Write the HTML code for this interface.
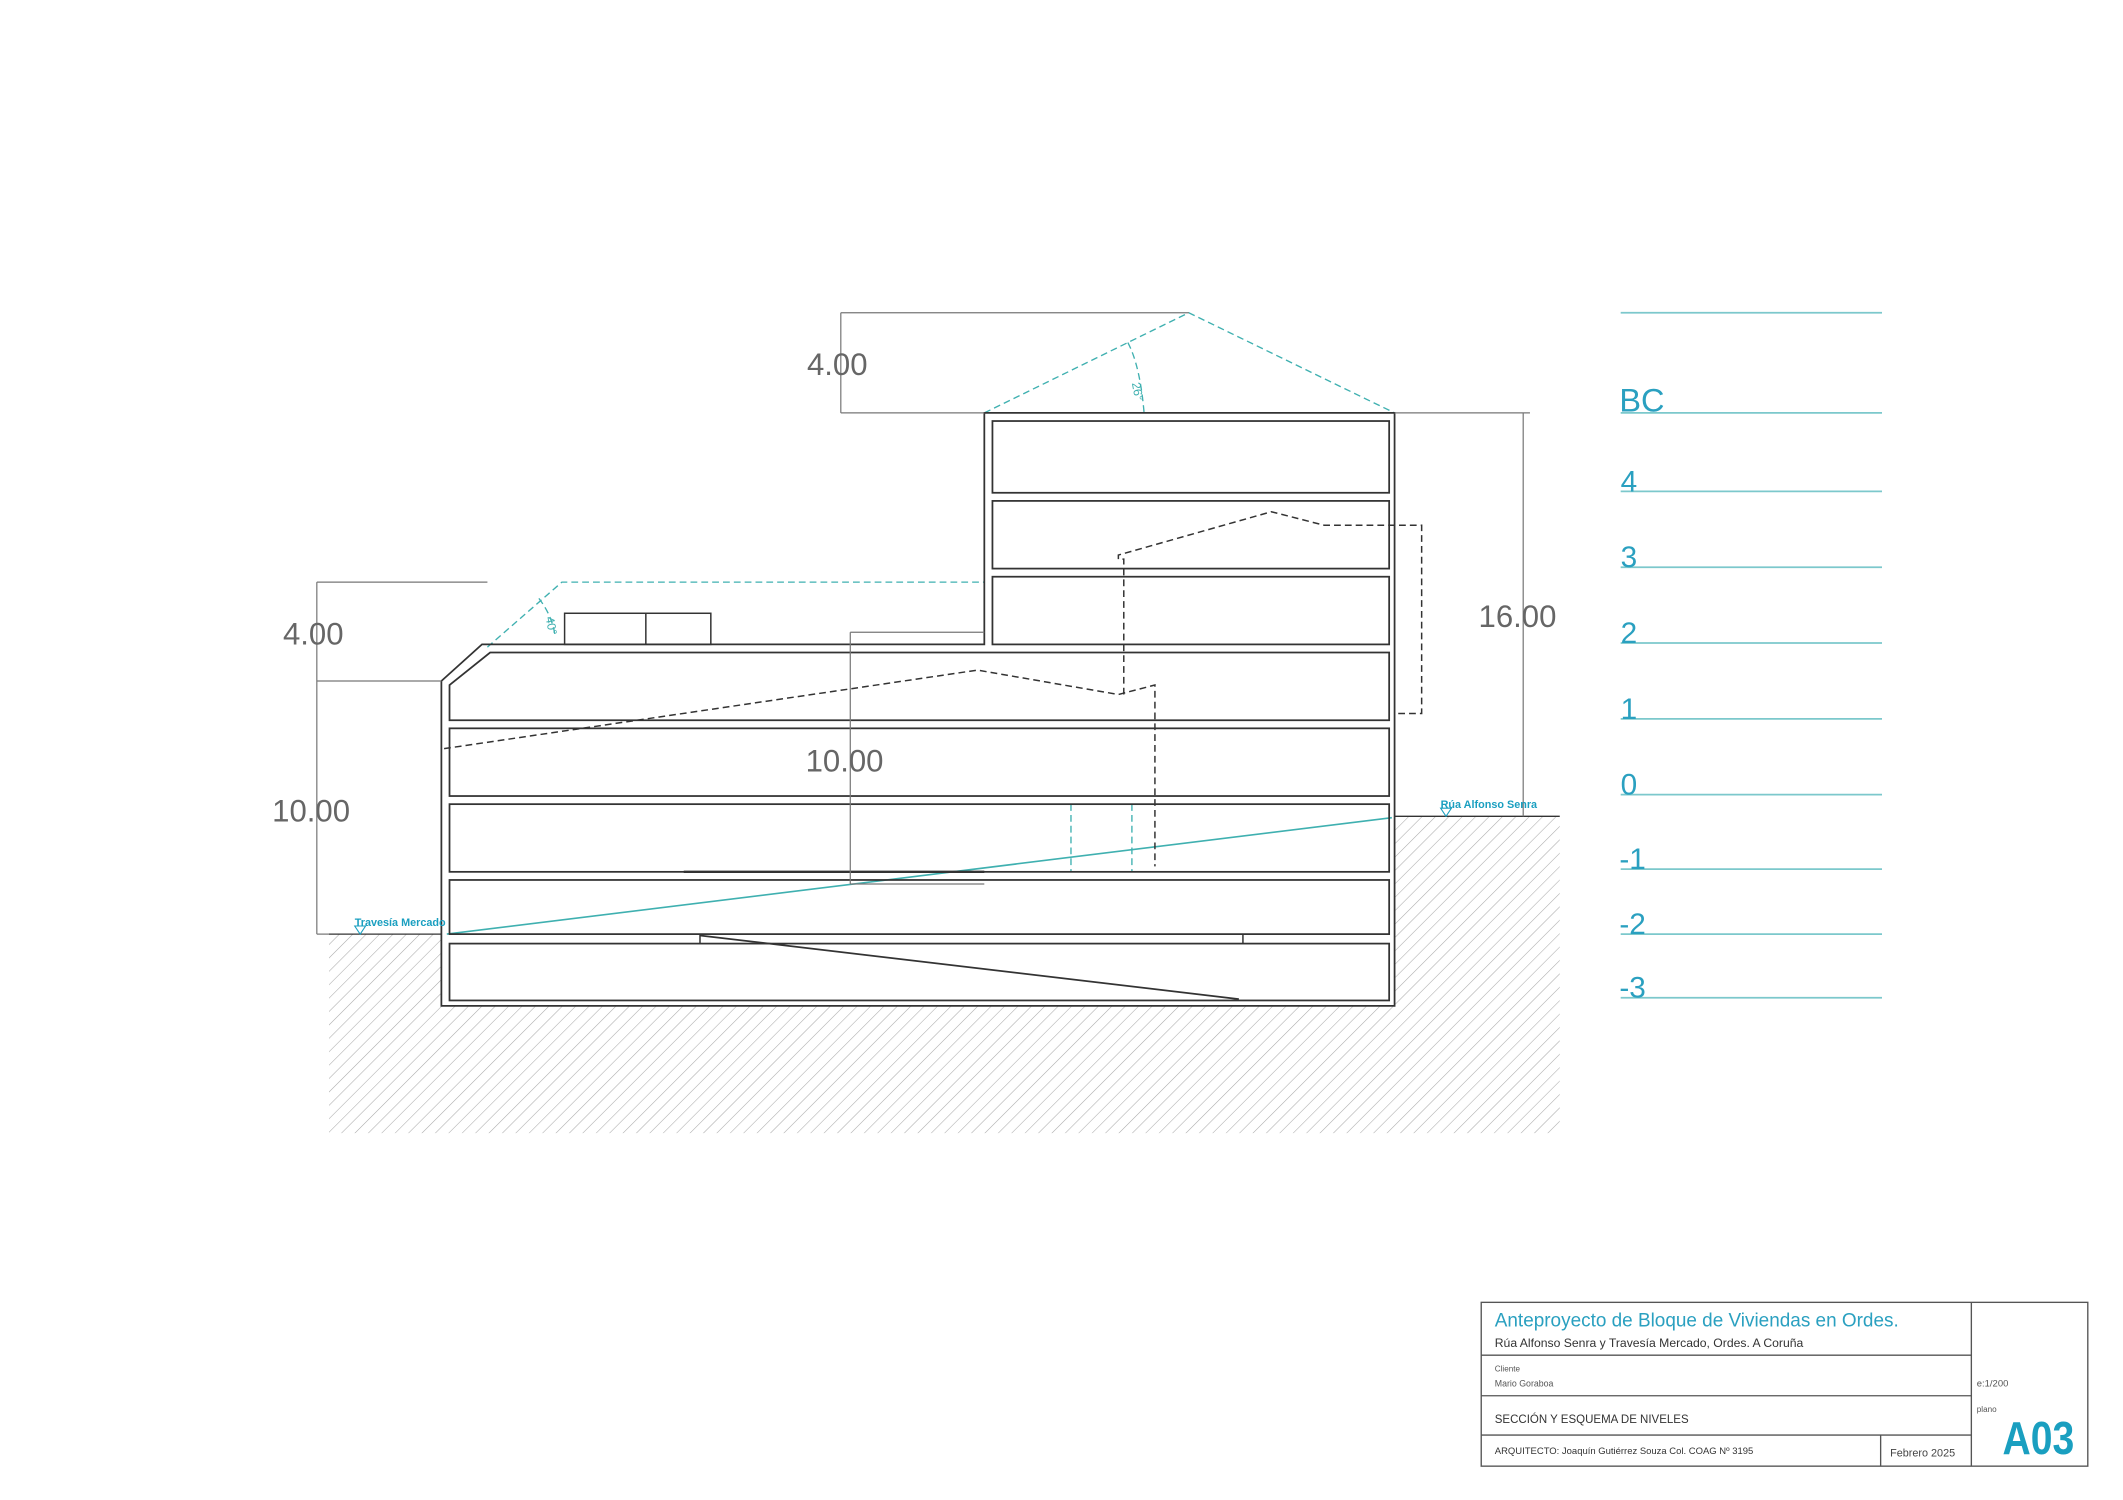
<!DOCTYPE html>
<html><head><meta charset="utf-8"><style>
html,body{margin:0;padding:0;background:#fff;}
svg{display:block;}
text{font-family:"Liberation Sans","DejaVu Sans",sans-serif;}
</style></head><body>
<svg width="2123" height="1500" viewBox="0 0 1568 1108" preserveAspectRatio="none" xmlns="http://www.w3.org/2000/svg">
<defs>
<pattern id="h" patternUnits="userSpaceOnUse" width="7" height="7" patternTransform="rotate(45)">
<line x1="0" y1="0" x2="0" y2="7" stroke="#aaa" stroke-width="0.8"/>
</pattern>
</defs>
<rect width="1568" height="1108" fill="#fff"/>
<polygon points="243,690 326,690 326,743 1030,743 1030,603 1152,603 1152,837 243,837" fill="url(#h)"/>
<line x1="243" y1="690" x2="326" y2="690" stroke="#333" stroke-width="1"/>
<line x1="1030" y1="603" x2="1152" y2="603" stroke="#333" stroke-width="1"/>

<g stroke="#3fb0b0" stroke-width="1" fill="none" stroke-dasharray="5,3">
<polyline points="727,305 878,231 1030,305"/>
<polyline points="360,478 415,430 727,430"/>
<path d="M833,253 Q842,270 845,305"/>
<path d="M398,442 Q408,455 410,470"/>
<line x1="791" y1="594" x2="791" y2="644"/>
<line x1="836" y1="594" x2="836" y2="644"/>
</g>
<text x="836" y="283" font-size="9" fill="#3fb0b0" transform="rotate(80 836 283)">26°</text>
<text x="403" y="456" font-size="9" fill="#3fb0b0" transform="rotate(80 403 456)">40°</text>
<line x1="330" y1="690" x2="1028" y2="604" stroke="#3fb0b0" stroke-width="1.2"/>

<g stroke="#333" stroke-width="1.3" fill="none">
<path d="M326,743 L326,503 L356,476 L727,476 L727,305 L1030,305 L1030,743 Z"/>
<rect x="733" y="311" width="293" height="53"/>
<rect x="733" y="370" width="293" height="50"/>
<rect x="733" y="426" width="293" height="50"/>
<path d="M332,532 L332,506 L362,482 L1026,482 L1026,532 Z"/>
<rect x="332" y="538" width="694" height="50"/>
<rect x="332" y="594" width="694" height="50"/>
<rect x="332" y="650" width="694" height="40"/>
<rect x="332" y="697" width="694" height="42"/>
<rect x="417" y="453" width="108" height="23" stroke-width="1.1"/>
<line x1="477" y1="453" x2="477" y2="476" stroke-width="1.1"/>
<line x1="517" y1="691" x2="915" y2="738" stroke-width="1.3"/>
<line x1="505" y1="644" x2="727" y2="644" stroke-width="1.8"/>
<line x1="517" y1="690" x2="517" y2="697" stroke-width="1.1"/>
<line x1="918" y1="690" x2="918" y2="697" stroke-width="1.1"/>
</g>

<g stroke="#333" stroke-width="1.1" fill="none" stroke-dasharray="5,3">
<polyline points="328,553 722,495 826,513 853,506 853,640"/>
<polyline points="830,513 830,413 826,413 826,410 939,378 978,388 1050,388 1050,527 1030,527"/>
</g>

<g stroke="#777" stroke-width="0.9" fill="none">
<line x1="621" y1="231" x2="621" y2="305"/>
<line x1="621" y1="231" x2="878" y2="231"/>
<line x1="621" y1="305" x2="727" y2="305"/>
<line x1="1125" y1="305" x2="1125" y2="603"/>
<line x1="1030" y1="305" x2="1130" y2="305"/>
<line x1="234" y1="430" x2="234" y2="690"/>
<line x1="234" y1="430" x2="360" y2="430"/>
<line x1="234" y1="503" x2="326" y2="503"/>
<line x1="234" y1="690" x2="243" y2="690"/>
<line x1="628" y1="467" x2="628" y2="653"/>
<line x1="628" y1="467" x2="727" y2="467"/>
<line x1="628" y1="653" x2="727" y2="653"/>
</g>
<g fill="#666" font-size="23">
<text x="596" y="277">4.00</text>
<text x="1092" y="463">16.00</text>
<text x="209" y="476">4.00</text>
<text x="201" y="607">10.00</text>
<text x="595" y="570">10.00</text>
</g>
<g fill="#1a9fc0" font-size="8" font-weight="bold">
<text x="262" y="684">Travesía Mercado</text>
<text x="1064" y="597">Rúa Alfonso Senra</text>
</g>
<g stroke="#1a9fc0" stroke-width="0.8" fill="none">
<path d="M262,684 L270,684 L266,690 Z"/>
<path d="M1064,597 L1072,597 L1068,603 Z"/>
</g>

<g stroke="#7cc8cc" stroke-width="1.3">
<line x1="1197" y1="231" x2="1390" y2="231"/>
<line x1="1197" y1="305" x2="1390" y2="305"/>
<line x1="1197" y1="363" x2="1390" y2="363"/>
<line x1="1197" y1="419" x2="1390" y2="419"/>
<line x1="1197" y1="475" x2="1390" y2="475"/>
<line x1="1197" y1="531" x2="1390" y2="531"/>
<line x1="1197" y1="587" x2="1390" y2="587"/>
<line x1="1197" y1="642" x2="1390" y2="642"/>
<line x1="1197" y1="690" x2="1390" y2="690"/>
<line x1="1197" y1="737" x2="1390" y2="737"/>
</g>
<g fill="#2aa0c0" font-size="22">
<text x="1196" y="304" font-size="24">BC</text>
<text x="1197" y="363">4</text>
<text x="1197" y="419">3</text>
<text x="1197" y="475">2</text>
<text x="1197" y="531">1</text>
<text x="1197" y="587">0</text>
<text x="1196" y="642">-1</text>
<text x="1196" y="690">-2</text>
<text x="1196" y="737">-3</text>
</g>

<g stroke="#555" stroke-width="1" fill="none">
<rect x="1094" y="962" width="448" height="121"/>
<line x1="1456" y1="962" x2="1456" y2="1083"/>
<line x1="1094" y1="1001" x2="1456" y2="1001"/>
<line x1="1094" y1="1031" x2="1456" y2="1031"/>
<line x1="1094" y1="1060" x2="1456" y2="1060"/>
<line x1="1389" y1="1060" x2="1389" y2="1083"/>
</g>
<text x="1104" y="980" font-size="14" fill="#2aa0c0">Anteproyecto de Bloque de Viviendas en Ordes.</text>
<text x="1104" y="995" font-size="9" fill="#333">Rúa Alfonso Senra y Travesía Mercado, Ordes. A Coruña</text>
<text x="1104" y="1013" font-size="6" fill="#555">Cliente</text>
<text x="1104" y="1024" font-size="6.5" fill="#555">Mario Goraboa</text>
<text x="1104" y="1051" font-size="8.5" fill="#333">SECCIÓN Y ESQUEMA DE NIVELES</text>
<text x="1104" y="1074" font-size="7" fill="#333">ARQUITECTO:  Joaquín Gutiérrez Souza   Col. COAG  Nº 3195</text>
<text x="1396" y="1076" font-size="8" fill="#444">Febrero 2025</text>
<text x="1460" y="1024" font-size="7" fill="#555">e:1/200</text>
<text x="1460" y="1043" font-size="6" fill="#555">plano</text>
<text x="1479" y="1074" font-size="34" font-weight="bold" fill="#1a9fc0" transform="translate(1479 1074) scale(0.85 1) translate(-1479 -1074)">A03</text>
</svg>
</body></html>
